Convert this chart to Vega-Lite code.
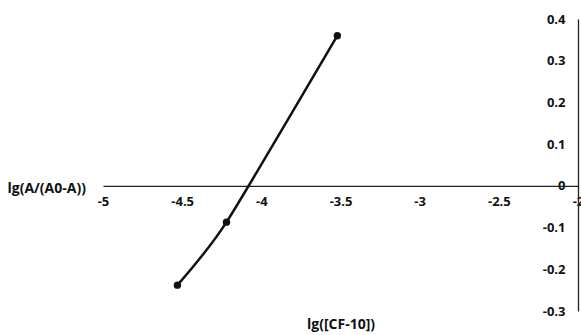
{
  "$schema": "https://vega.github.io/schema/vega-lite/v6.json",
  "autosize": "none",
  "width": 475,
  "height": 292,
  "padding": {"left": 103, "top": 19, "right": 3, "bottom": 24},
  "background": "white",
  "config": {"view": {"stroke": null}, "font": "Open Sans"},
  "data": {"values": [
    {"x": -4.53, "y": -0.238},
    {"x": -4.22, "y": -0.087},
    {"x": -3.52, "y": 0.36}
  ]},
  "encoding": {
    "x": {"field": "x", "type": "quantitative", "scale": {"domain": [-5, -2], "nice": false, "zero": false},
      "axis": {"title": "lg([CF-10])", "values": [-5, -4.5, -4, -3.5, -3, -2.5, -2], "format": "~g", "offset": -125.1, "grid": false, "ticks": false,
        "domainColor": "#222", "domainWidth": 1.3, "labelPadding": 10, "labelFontSize": 13, "labelFontWeight": "bold", "labelColor": "#111",
        "labelFlush": false, "labelOverlap": false, "labelExpr": "replace(datum.label, '−', '-')",
        "titleFontSize": 14, "titleFontWeight": "bold", "titleColor": "#111", "titleY": 139, "titleBaseline": "middle"}},
    "y": {"field": "y", "type": "quantitative", "scale": {"domain": [-0.3, 0.4], "nice": false, "zero": false},
      "axis": {"title": "lg(A/(A0-A))", "orient": "left", "offset": -475, "values": [-0.3, -0.2, -0.1, 0, 0.1, 0.2, 0.3, 0.4], "format": "~g", "grid": false, "ticks": false,
        "domainColor": "#222", "domainWidth": 1.3, "labelPadding": 13, "labelFontSize": 13, "labelFontWeight": "bold", "labelColor": "#111",
        "labelFlush": false, "labelOverlap": false, "labelExpr": "replace(datum.label, '−', '-')",
        "titleFontSize": 14, "titleFontWeight": "bold", "titleColor": "#111", "titleAngle": 0, "titleAlign": "left", "titleBaseline": "middle",
        "titleX": -571, "titleY": 169}}
  },
  "layer": [
    {"mark": {"type": "line", "interpolate": "cardinal", "tension": 0.4, "color": "#111", "strokeWidth": 2.5}},
    {"mark": {"type": "point", "filled": true, "color": "#111", "size": 55, "opacity": 1}}
  ]
}
